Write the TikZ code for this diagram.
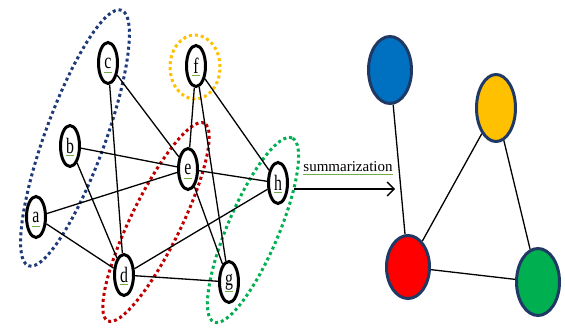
\documentclass[tikz,border=0pt]{standalone}
\usepackage{fontspec}
\setmainfont{Liberation Serif}
\usetikzlibrary{shapes.geometric,arrows.meta}
\definecolor{dnavy}{HTML}{1F3864}
\definecolor{dblue}{HTML}{1F3A78}
\definecolor{dred}{HTML}{C00000}
\definecolor{gold}{HTML}{FFC000}
\definecolor{mgreen}{HTML}{00B050}
\definecolor{sblue}{HTML}{0070C0}
\definecolor{sred}{HTML}{FF0000}
\definecolor{ulgreen}{HTML}{70AD47}
\begin{document}
\begin{tikzpicture}[x=1pt,y=-1pt,
  vnode/.style={ellipse,draw=black,line width=3pt,minimum width=19pt,minimum height=41pt,inner sep=0pt,
    font=\fontsize{22}{22}\selectfont},
  gedge/.style={line width=1.3pt,black},
  group/.style={ellipse,draw,line width=3pt,dash pattern=on 3pt off 3pt,inner sep=0pt},
  snode/.style={ellipse,draw=dnavy,line width=3pt,inner sep=0pt},
  sedge/.style={line width=1.3pt,black},
  ul/.style={line width=0.6pt,ulgreen}]
\useasboundingbox (0,0) rectangle (565,331);
% groups
\node[group,draw=dblue,minimum width=272pt,minimum height=60pt,rotate=70] (gblue) at (75,138) {};
\node[group,draw=dred,minimum width=220pt,minimum height=50pt,rotate=64] (gred) at (156,222) {};
\node[group,draw=mgreen,minimum width=200pt,minimum height=51pt,rotate=67] (ggreen) at (253,230) {};
\node[group,draw=gold,minimum width=50pt,minimum height=64pt] (gorange) at (195,67) {};
% vertices
\node[vnode] (c) at (108,63) {\scalebox{0.72}[1]{c}};
\node[vnode] (f) at (196,66) {\scalebox{0.72}[1]{f}};
\node[vnode] (b) at (70,146) {\scalebox{0.72}[1]{b}};
\node[vnode] (e) at (188,169) {\scalebox{0.72}[1]{e}};
\node[vnode] (h) at (278,183) {\scalebox{0.72}[1]{h}};
\node[vnode] (a) at (36,217) {\scalebox{0.72}[1]{a}};
\node[vnode] (d) at (124,275) {\scalebox{0.72}[1]{d}};
\node[vnode] (g) at (229,282) {\scalebox{0.72}[1]{g}};
\foreach \n in {a,b,c,d,e,f,g,h}{
  \draw[ul] ([xshift=-4pt,yshift=-9pt]\n.center) -- ([xshift=4pt,yshift=-9pt]\n.center);
}
% edges
\draw[gedge] (c) -- (d);
\draw[gedge] (c) -- (e);
\draw[gedge] (b) -- (e);
\draw[gedge] (b) -- (d);
\draw[gedge] (a) -- (e);
\draw[gedge] (a) -- (d);
\draw[gedge] (f) -- (e);
\draw[gedge] (f) -- (g);
\draw[gedge] (e) -- (g);
\draw[gedge] (f) -- (h);
\draw[gedge] (e) -- (h);
\draw[gedge] (d) -- (h);
\draw[gedge] (d) -- (g);
% arrow
\coordinate (arrs) at (294,189);
\coordinate (arre) at (395,189);
\draw[line width=1.3pt,-{Straight Barb[length=7pt,width=14pt,line width=1.3pt]}] (arrs) -- (arre);
\node[font=\fontsize{15}{15}\selectfont,anchor=base,inner sep=0pt] (lbl) at (348,172) {summarization};
\draw[ul] ([yshift=-2.5pt]lbl.base west) -- ([yshift=-2.5pt]lbl.base east);
% summary graph
\node[snode,fill=sblue,minimum width=43pt,minimum height=67pt] (sb) at (390,70) {};
\node[snode,fill=gold,minimum width=39pt,minimum height=67pt] (sy) at (496,108) {};
\node[snode,fill=sred,minimum width=43pt,minimum height=63pt] (sr) at (408,267) {};
\node[snode,fill=mgreen,minimum width=43pt,minimum height=67pt] (sg) at (538,282) {};
\draw[sedge] (sb) -- (sr);
\draw[sedge] (sy) -- (sr);
\draw[sedge] (sy) -- (sg);
\draw[sedge] (sr) -- (sg);
\end{tikzpicture}
\end{document}
